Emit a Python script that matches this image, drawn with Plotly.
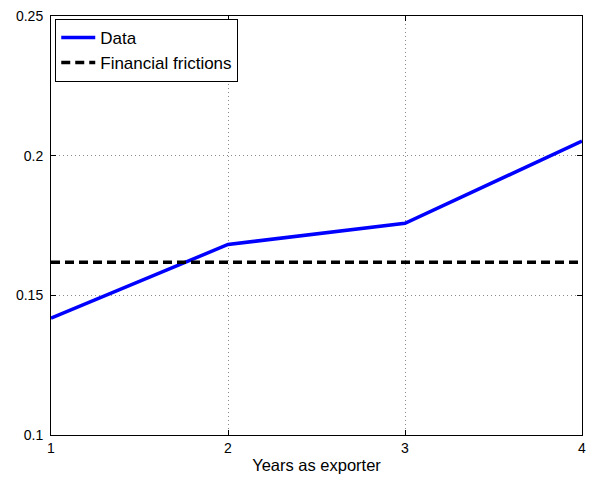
import plotly.graph_objects as go

years = [1, 2, 3, 4]
data_vals = [0.1418, 0.1682, 0.1758, 0.2052]
frictions_vals = [0.1618, 0.1618, 0.1618, 0.1618]
x_ticks = [1, 2, 3, 4]
y_ticks = [0.1, 0.15, 0.2, 0.25]
y_tick_labels = ["0.1", "0.15", "0.2", "0.25"]

FONT = "Liberation Sans, Arial, Helvetica"

fig = go.Figure()
fig.add_trace(go.Scatter(x=years, y=data_vals, mode="lines", name="Data",
                         line=dict(color="#0000ff", width=3.5)))
fig.add_trace(go.Scatter(x=years, y=frictions_vals, mode="lines", name="Financial frictions",
                         line=dict(color="black", width=3.5, dash="9px,5px")))

axis_common = dict(showline=True, linecolor="black", linewidth=1, mirror="ticks",
                   ticks="inside", ticklen=5, tickcolor="black",
                   showgrid=True, gridcolor="#8a8a8a", griddash="1px,3px", gridwidth=1,
                   zeroline=False, tickfont=dict(family=FONT, size=14, color="black"))

fig.update_xaxes(range=[1, 4], tickvals=x_ticks, ticktext=[str(v) for v in x_ticks],
                 title=dict(text="Years as exporter", font=dict(family=FONT, size=16.5, color="black"),
                            standoff=4),
                 **axis_common)
fig.update_yaxes(range=[0.1, 0.25], tickvals=y_ticks, ticktext=y_tick_labels,
                 ticklabelstandoff=4, **axis_common)

fig.update_layout(
    width=591, height=483,
    margin=dict(l=51, r=5, t=16, b=48),
    plot_bgcolor="white", paper_bgcolor="white",
    showlegend=True,
    legend=dict(x=0.008, y=0.993, xanchor="left", yanchor="top",
                bgcolor="white", bordercolor="black", borderwidth=1,
                font=dict(family=FONT, size=17, color="black"),
                tracegroupgap=0, itemwidth=34),
)

fig.write_html("out.html")
